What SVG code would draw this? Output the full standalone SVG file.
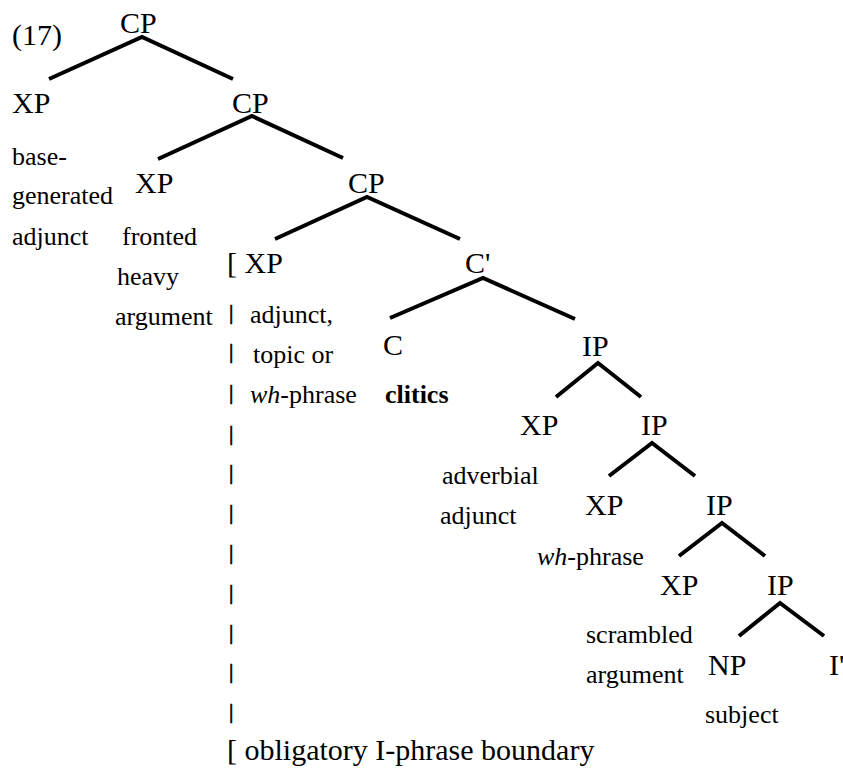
<svg xmlns="http://www.w3.org/2000/svg" width="843" height="772" viewBox="0 0 843 772">
<style>
.n{font-family:"Liberation Serif","Times New Roman",serif;font-size:30px;fill:#000}
.s{font-family:"Liberation Serif","Times New Roman",serif;font-size:26px;fill:#000}
.b{font-family:"Liberation Serif","Times New Roman",serif;font-size:22px;fill:#000;stroke:#000;stroke-width:0.7}
.e{fill:none;stroke:#000;stroke-width:4;stroke-linejoin:miter;stroke-linecap:butt}
</style>
<rect width="843" height="772" fill="#fff"/>
<text class="n" x="12" y="45">(17)</text>
<g id="edges">
<polyline class="e" points="49,79 142,37 233,79"/>
<polyline class="e" points="158,159 252,116 343,158"/>
<polyline class="e" points="275,239 367,197 460,239"/>
<polyline class="e" points="390,318 483,278 575,319"/>
<polyline class="e" points="556,397 598,363 641,397"/>
<polyline class="e" points="609,476 652,443 695,476"/>
<polyline class="e" points="679,556 722,523 765,556"/>
<polyline class="e" points="739,636 780,603 824,636"/>
</g>
<g id="cp0"><text class="n" x="120" y="33">CP</text></g>
<g id="xp-a"><text class="n" x="12" y="113">XP</text>
<text class="s" x="12" y="165">base-</text>
<text class="s" x="12" y="204">generated</text>
<text class="s" x="12" y="245">adjunct</text></g>
<g id="cp1"><text class="n" x="232" y="113">CP</text></g>
<g id="xp-b"><text class="n" x="135" y="193">XP</text>
<text class="s" x="122" y="245">fronted</text>
<text class="s" x="117" y="285">heavy</text>
<text class="s" x="115" y="325">argument</text></g>
<g id="cp2"><text class="n" x="348" y="193">CP</text></g>
<g id="xp-c"><text class="n" x="227" y="273">[ XP</text>
<text class="s" x="250" y="323">adjunct,</text>
<text class="s" x="253" y="363">topic or</text>
<text class="s" x="250" y="403"><tspan font-style="italic">wh</tspan>-phrase</text></g>
<g id="cbar"><text class="n" x="465" y="273">C'</text></g>
<g id="c"><text class="n" x="383" y="355">C</text>
<text class="s" x="385" y="403" font-weight="bold">clitics</text></g>
<g id="ip0"><text class="n" x="582" y="356">IP</text></g>
<g id="xp-d"><text class="n" x="520" y="435">XP</text>
<text class="s" x="442" y="484">adverbial</text>
<text class="s" x="440" y="524">adjunct</text></g>
<g id="ip1"><text class="n" x="641" y="435">IP</text></g>
<g id="xp-e"><text class="n" x="585" y="515">XP</text>
<text class="s" x="537" y="565"><tspan font-style="italic">wh</tspan>-phrase</text></g>
<g id="ip2"><text class="n" x="706" y="515">IP</text></g>
<g id="xp-f"><text class="n" x="660" y="595">XP</text>
<text class="s" x="586" y="643">scrambled</text>
<text class="s" x="586" y="683">argument</text></g>
<g id="ip3"><text class="n" x="767" y="595">IP</text></g>
<g id="np"><text class="n" x="708" y="675">NP</text>
<text class="s" x="705" y="723">subject</text></g>
<g id="ibar"><text class="n" x="829" y="675">I'</text></g>
<g id="boundary">
<text class="b" x="229" y="319">|</text>
<text class="b" x="229" y="358">|</text>
<text class="b" x="229" y="399">|</text>
<text class="b" x="229" y="440">|</text>
<text class="b" x="229" y="479">|</text>
<text class="b" x="229" y="519">|</text>
<text class="b" x="229" y="559">|</text>
<text class="b" x="229" y="599">|</text>
<text class="b" x="229" y="639">|</text>
<text class="b" x="229" y="678">|</text>
<text class="b" x="229" y="718">|</text>
<text class="n" x="227" y="760">[ obligatory I-phrase boundary</text>
</g>
</svg>
